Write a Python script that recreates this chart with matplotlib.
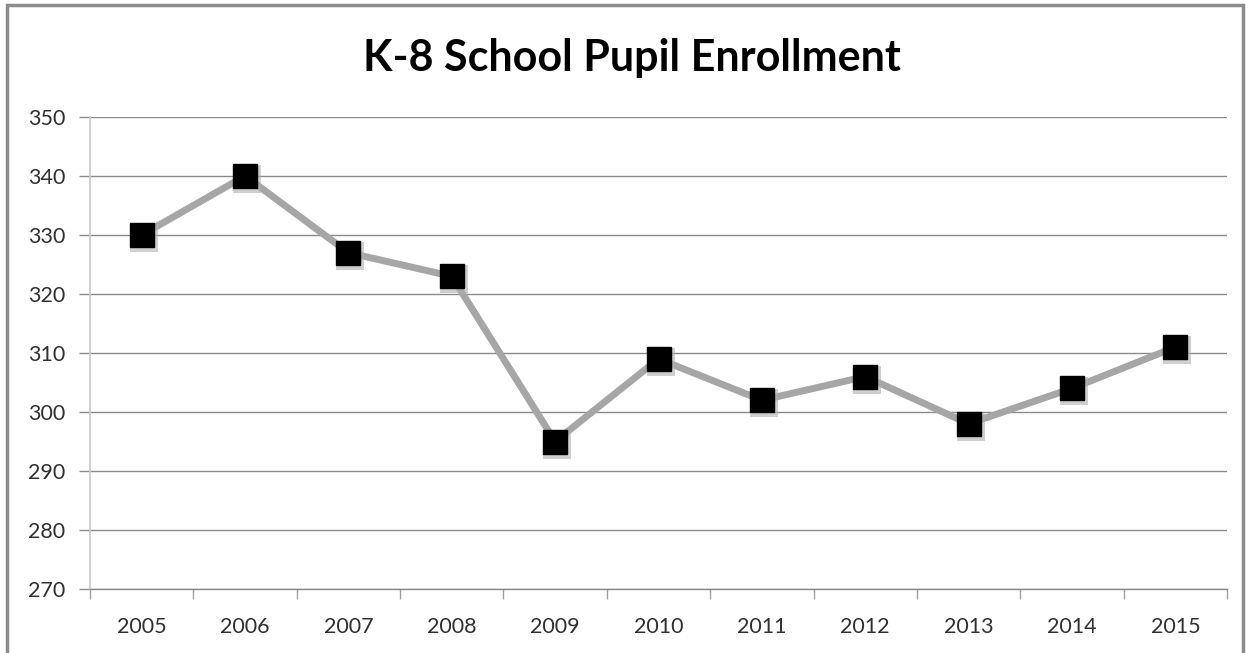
import matplotlib
matplotlib.use("Agg")
import matplotlib.pyplot as plt
import matplotlib.transforms as mtransforms
from matplotlib.patches import Rectangle

years = ["2005", "2006", "2007", "2008", "2009", "2010", "2011", "2012", "2013", "2014", "2015"]
enrollment = [330, 340, 327, 323, 295, 309, 302, 306, 298, 304, 311]
y_ticks = [270, 280, 290, 300, 310, 320, 330, 340, 350]
title = "K-8 School Pupil Enrollment"

W, H = 1253, 653
fig = plt.figure(figsize=(W / 100, H / 100), dpi=100)
fig.patch.set_facecolor("white")

# outer chart border
fig.patches.append(Rectangle((7 / W, -0.01), (1243 - 7) / W, 1 - 5 / H + 0.01,
                             transform=fig.transFigure, fill=False,
                             edgecolor="#8c8c8c", linewidth=2.5))

left, right, top, bottom = 90, 1227, 117, 589
ax = fig.add_axes([left / W, 1 - bottom / H, (right - left) / W, (bottom - top) / H])

x = list(range(len(years)))
ax.set_xlim(-0.5, len(years) - 0.5)
ax.set_ylim(270, 350)

ax.set_yticks(y_ticks)
ax.set_yticklabels([str(v) for v in y_ticks])
ax.grid(axis="y", color="#8a8a8a", linewidth=1.0)
ax.set_axisbelow(True)

ax.set_xticks(x)
ax.set_xticklabels(years)
ax.set_xticks([i - 0.5 for i in range(len(years) + 1)], minor=True)
ax.tick_params(axis="x", which="major", length=0, pad=20, labelsize=15.5, labelcolor="#303030")
ax.tick_params(axis="x", which="minor", length=7, width=1, color="#a0a0a0", direction="out")
ax.tick_params(axis="y", which="major", length=8, width=1, color="#8a8a8a", pad=10,
               labelsize=15.5, labelcolor="#303030")

for s in ["top", "right"]:
    ax.spines[s].set_visible(False)
ax.spines["left"].set_color("#c8c8c8")
ax.spines["left"].set_linewidth(1.2)
ax.spines["bottom"].set_color("#8a8a8a")
ax.spines["bottom"].set_linewidth(1.0)

for lab in ax.get_xticklabels() + ax.get_yticklabels():
    lab.set_fontfamily(["Lato", "DejaVu Sans"])

ax.plot(x, enrollment, color="#a6a6a6", linewidth=5, solid_capstyle="round", zorder=3)
shadow = mtransforms.offset_copy(ax.transData, fig=fig, x=2, y=-3, units="dots")
ax.plot(x, enrollment, linestyle="none", marker="s", markersize=20,
        color="#b0b0b0", markeredgewidth=0, alpha=0.6, transform=shadow, zorder=4)
ax.plot(x, enrollment, linestyle="none", marker="s", markersize=17,
        color="black", markeredgecolor="black", zorder=5)

fig.text((357 + 907) / 2 / W, 1 - 58 / H, title, ha="center", va="center",
         fontsize=31, fontweight="bold", family=["Lato", "DejaVu Sans"], color="black")

fig.savefig("out.png", dpi=100)
